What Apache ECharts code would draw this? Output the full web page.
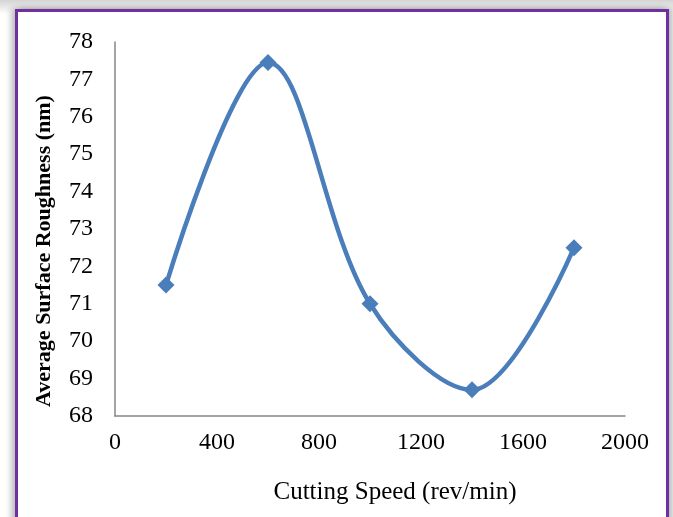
<!DOCTYPE html>
<html>
<head>
<meta charset="utf-8">
<script src="https://cdn.jsdelivr.net/npm/echarts@6/dist/echarts.min.js"></script>
<style>
html,body{margin:0;padding:0;width:673px;height:517px;overflow:hidden;background:#ffffff;}
#bg{position:absolute;left:0;top:0;width:673px;height:517px;background:linear-gradient(#d4d4d4,#ffffff 14px);}
#frame{position:absolute;left:15px;top:9px;width:648px;height:520px;border:3px solid #7030a0;background:#fff;box-shadow:-4px 0 6px rgba(0,0,0,0.25),4px 0 6px rgba(0,0,0,0.25);}
#chart{position:absolute;left:0;top:0;width:673px;height:517px;}
</style>
</head>
<body>
<div id="bg"></div>
<div id="frame"></div>
<div id="chart"></div>
<script>
var speeds = [200, 600, 1000, 1400, 1800];
var roughness = [71.5, 77.45, 71.0, 68.7, 72.5];
var xTicks = [0, 400, 800, 1200, 1600, 2000];
var yTicks = [68, 69, 70, 71, 72, 73, 74, 75, 76, 77, 78];

var chart = echarts.init(document.getElementById('chart'), null, {renderer: 'canvas'});
var serif = '"Liberation Serif", "DejaVu Serif", serif';
chart.setOption({
  backgroundColor: 'transparent',
  animation: false,
  grid: {left: 115, right: 48, top: 42, bottom: 101},
  xAxis: {
    type: 'value',
    min: xTicks[0], max: xTicks[xTicks.length - 1], interval: 400,
    name: 'Cutting Speed (rev/min)',
    nameLocation: 'middle', nameGap: 64,
    nameTextStyle: {fontFamily: serif, fontSize: 25, color: '#000', padding: [0, 0, 0, 50]},
    axisLine: {show: true, lineStyle: {color: '#868686', width: 1.5}},
    axisTick: {show: false},
    splitLine: {show: false},
    axisLabel: {fontFamily: serif, fontSize: 24, color: '#000', margin: 15,
      formatter: function (v) { return String(v); }}
  },
  yAxis: {
    type: 'value',
    min: yTicks[0], max: yTicks[yTicks.length - 1], interval: 1,
    name: 'Average Surface Roughness (nm)',
    nameLocation: 'middle', nameGap: 60, nameRotate: 90,
    nameTextStyle: {fontFamily: serif, fontSize: 22, fontWeight: 'bold', color: '#000', padding: [0, 44, 0, 0]},
    axisLine: {show: true, lineStyle: {color: '#868686', width: 1.5}},
    axisTick: {show: false},
    splitLine: {show: false},
    axisLabel: {fontFamily: serif, fontSize: 24, color: '#000', margin: 22}
  },
  series: [{
    type: 'line',
    data: speeds.map(function (s, i) { return [s, roughness[i]]; }),
    smooth: 0.35,
    symbol: 'diamond',
    symbolSize: 17,
    lineStyle: {color: '#4a7ebb', width: 4.5},
    itemStyle: {color: '#4a7ebb'}
  }]
});
</script>
</body>
</html>
